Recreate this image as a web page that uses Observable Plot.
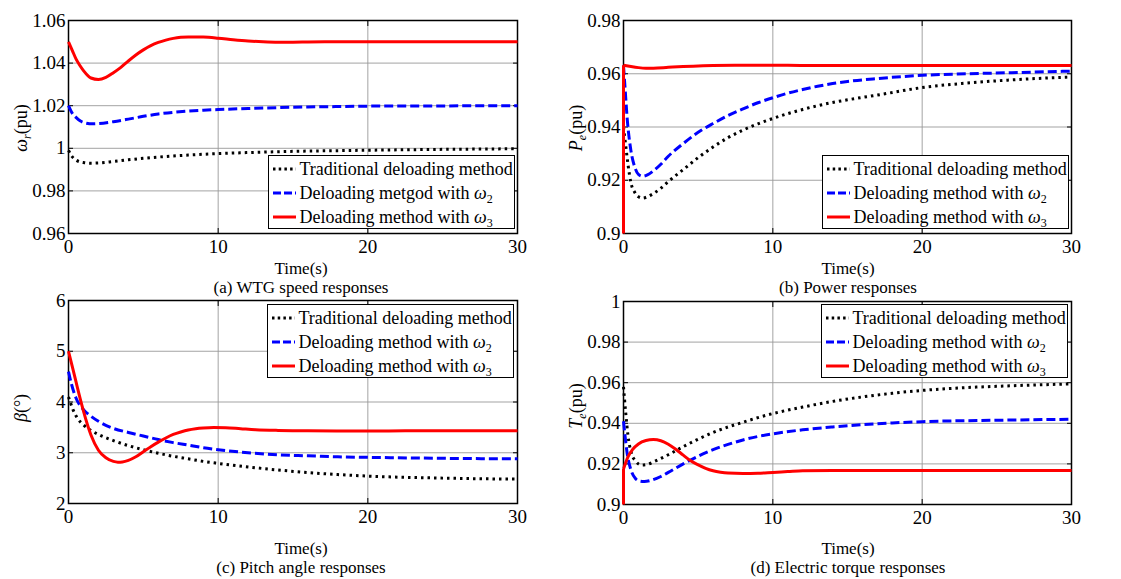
<!DOCTYPE html>
<html><head><meta charset="utf-8">
<script src="https://cdn.jsdelivr.net/npm/d3@7"></script>
<script src="https://cdn.jsdelivr.net/npm/@observablehq/plot@0.6"></script>
<style>
body{margin:0;background:#fff;}
#root{position:relative;width:1121px;height:579px;overflow:hidden;background:#fff;font-family:"Liberation Serif","Times New Roman",serif;color:#000;}
#root *{font-family:"Liberation Serif","Times New Roman",serif !important;}
#root svg text{font-family:"Liberation Serif","Times New Roman",serif !important;font-size:19px !important;fill:#000;}
.panel{position:absolute;}
.lbl{position:absolute;white-space:nowrap;transform:translate(-50%,-50%);font-size:17px;line-height:1;font-weight:normal;}
.ylbl{position:absolute;white-space:nowrap;transform:translate(-50%,-50%) rotate(-90deg);font-size:18px;line-height:1;}
.legend{position:absolute;border:1.5px solid #000;background:#fff;box-sizing:border-box;}
.row{position:absolute;height:24px;display:flex;align-items:center;font-size:18px;white-space:nowrap;line-height:1;}
.row svg{margin-right:4px;}
sub{font-size:12px;vertical-align:-4px;line-height:0;}
</style></head>
<body><div id="root"></div>
<script>
// ---------- data ----------
const timeTicks = [0, 10, 20, 30];
const speedTicks = [0.96, 0.98, 1, 1.02, 1.04, 1.06];
const powerTicks = [0.9, 0.92, 0.94, 0.96, 0.98];
const pitchTicks = [2, 3, 4, 5, 6];
const torqueTicks = [0.9, 0.92, 0.94, 0.96, 0.98, 1];

const legendTextA = ["Traditional deloading method", "Deloading metgod with <i>ω</i><sub>2</sub>", "Deloading method with <i>ω</i><sub>3</sub>"];
const legendTextB = ["Traditional deloading method", "Deloading method with <i>ω</i><sub>2</sub>", "Deloading method with <i>ω</i><sub>3</sub>"];
const captions = ["(a) WTG speed responses", "(b) Power responses", "(c) Pitch angle responses", "(d) Electric torque responses"];
const yLabels = ["<i>ω<sub>r</sub></i>(pu)", "<i>P<sub>e</sub></i>(pu)", "<i>β</i>(°)", "<i>T<sub>e</sub></i>(pu)"];
const xLabel = "Time(s)";

// (a) WTG speed
const speedTraditional = [[0,0.999],[0.2,0.9965],[0.5,0.9945],[1,0.9933],[1.5,0.993],[2,0.9931],[3,0.9938],[4,0.9946],[5,0.9953],[6,0.9959],[7,0.9964],[8,0.9968],[9,0.9972],[10,0.9975],[12,0.998],[14,0.9984],[16,0.9987],[18,0.9989],[20,0.9991],[25,0.9995],[30,0.9998]];
const speedOmega2 = [[0,1.020],[0.2,1.017],[0.5,1.0145],[0.8,1.0128],[1.2,1.0118],[1.6,1.0115],[2,1.0116],[3,1.0125],[4,1.0137],[5,1.015],[6,1.0161],[7,1.0169],[8,1.0175],[9,1.0179],[10,1.0182],[12,1.0187],[14,1.0191],[16,1.0194],[18,1.0196],[20,1.0198],[25,1.0199],[30,1.02]];
const speedOmega3 = [[0,1.05],[0.25,1.046],[0.5,1.042],[0.75,1.039],[1,1.0365],[1.5,1.033],[2,1.0323],[2.5,1.0333],[3,1.0355],[3.5,1.038],[4,1.041],[4.5,1.0438],[5,1.0462],[5.5,1.0482],[6,1.0497],[6.5,1.0508],[7,1.0516],[7.5,1.0521],[8,1.0523],[9,1.0522],[10,1.0517],[11,1.051],[12,1.0504],[13,1.05],[14,1.0498],[15,1.0498],[16,1.0499],[18,1.05],[20,1.05],[25,1.05],[30,1.05]];

// (b) Power
const powerTraditional = [[0,0.940],[0.15,0.933],[0.3,0.926],[0.5,0.919],[0.75,0.9155],[1,0.9138],[1.3,0.9133],[1.6,0.9138],[2,0.915],[2.5,0.917],[3,0.9195],[4,0.924],[5,0.9285],[6,0.9325],[7,0.936],[8,0.9388],[9,0.9412],[10,0.9432],[11,0.945],[12,0.9466],[13,0.948],[14,0.9492],[15,0.9502],[17,0.952],[20,0.9548],[23,0.9565],[26,0.9577],[30,0.9588]];
const powerOmega2 = [[0,0.963],[0.1,0.955],[0.25,0.943],[0.5,0.931],[0.75,0.925],[1,0.9222],[1.3,0.9215],[1.6,0.922],[2,0.9235],[2.5,0.926],[3,0.929],[4,0.9338],[5,0.938],[6,0.9413],[7,0.9443],[8,0.9468],[9,0.9491],[10,0.951],[11,0.9527],[12,0.9541],[13,0.9553],[14,0.9563],[15,0.9571],[17,0.9582],[20,0.9594],[23,0.96],[26,0.9604],[30,0.961]];
const powerOmega3 = [[0,0.9],[0,0.9632],[0.5,0.9627],[1,0.9623],[1.5,0.9621],[2,0.9621],[3,0.9624],[4,0.9627],[5,0.9629],[6,0.9631],[8,0.9632],[10,0.9632],[12,0.9631],[15,0.9631],[20,0.9631],[30,0.9631]];

// (c) Pitch angle
const pitchTraditional = [[0,4.1],[0.3,3.85],[0.6,3.68],[1,3.55],[1.5,3.44],[2,3.36],[3,3.24],[4,3.14],[5,3.06],[6,2.99],[7,2.93],[8,2.88],[9,2.83],[10,2.79],[12,2.72],[14,2.66],[16,2.61],[18,2.57],[20,2.54],[25,2.5],[30,2.48]];
const pitchOmega2 = [[0,4.6],[0.2,4.35],[0.5,4.08],[1,3.85],[1.5,3.72],[2,3.62],[3,3.48],[4,3.4],[5,3.33],[6,3.26],[7,3.2],[8,3.15],[9,3.1],[10,3.06],[12,3.0],[14,2.96],[16,2.94],[18,2.92],[20,2.91],[25,2.89],[30,2.88]];
const pitchOmega3 = [[0,5.0],[0.25,4.7],[0.5,4.4],[0.75,4.1],[1,3.82],[1.5,3.35],[2,3.05],[2.5,2.9],[3,2.83],[3.3,2.815],[3.6,2.82],[4,2.85],[4.5,2.92],[5,3.02],[5.5,3.12],[6,3.21],[6.5,3.29],[7,3.36],[7.5,3.41],[8,3.45],[8.5,3.475],[9,3.49],[9.7,3.5],[10.5,3.495],[11.5,3.475],[12.5,3.455],[14,3.44],[16,3.432],[20,3.43],[25,3.435],[30,3.435]];

// (d) Electric torque
const torqueTraditional = [[0,0.958],[0.15,0.945],[0.3,0.934],[0.5,0.926],[0.8,0.9215],[1.2,0.9195],[1.6,0.9198],[2,0.921],[3,0.9245],[4,0.9285],[5,0.9322],[6,0.9355],[7,0.9382],[8,0.9405],[9,0.9428],[10,0.9448],[12,0.948],[14,0.9508],[16,0.953],[18,0.9548],[20,0.9562],[23,0.9576],[26,0.9585],[30,0.9594]];
const torqueOmega2 = [[0,0.941],[0.1,0.934],[0.25,0.925],[0.5,0.917],[0.8,0.9128],[1.1,0.9115],[1.4,0.9113],[1.8,0.9118],[2.5,0.9138],[3,0.9158],[4,0.92],[5,0.9238],[6,0.927],[7,0.9296],[8,0.9318],[9,0.9335],[10,0.9348],[12,0.9368],[14,0.9382],[16,0.9393],[18,0.9402],[20,0.9408],[25,0.9415],[30,0.942]];
const torqueOmega3 = [[0,0.9],[0,0.9175],[0.3,0.9235],[0.6,0.927],[1,0.9298],[1.5,0.9315],[2,0.932],[2.5,0.9314],[3,0.9297],[3.5,0.9272],[4,0.9243],[4.5,0.9215],[5,0.9195],[5.5,0.9178],[6,0.9166],[6.5,0.9159],[7,0.9155],[8,0.9153],[9,0.9154],[10,0.9158],[11,0.9162],[12,0.9166],[14,0.9168],[20,0.9168],[30,0.9168]];

// ---------- styles ----------
const seriesStyles = [
  {stroke: "#000000", strokeWidth: 3, strokeDasharray: "2.5,4", legendDash: "2.5,3.2"},
  {stroke: "#0000ff", strokeWidth: 3, strokeDasharray: "9,4", legendDash: "8,3"},
  {stroke: "#ff0000", strokeWidth: 3, strokeDasharray: null, legendDash: null}
];
const FONT = '"Liberation Serif","Times New Roman",serif';

const root = document.getElementById("root");
const fmt = d => String(+(+d).toFixed(2));

function makePanel(cfg) {
  const {series, yTicks, left, top, width, height, mt, mb, ml, mr} = cfg;
  const gridStyle = {stroke: "#999999", strokeOpacity: 1, strokeWidth: 0.9};
  const marks = [
    Plot.gridX(timeTicks.slice(1, -1), gridStyle),
    Plot.gridY(yTicks.slice(1, -1), gridStyle),
    Plot.axisX(timeTicks, {anchor: "bottom", tickSize: 0, tickPadding: 6, label: null, tickFormat: fmt, fontFamily: FONT, fontSize: 19}),
    Plot.axisX(timeTicks, {anchor: "bottom", tickSize: -5, label: null, tickFormat: () => "", strokeWidth: 1}),
    Plot.axisX(timeTicks, {anchor: "top", tickSize: -5, label: null, tickFormat: () => "", strokeWidth: 1}),
    Plot.axisY(yTicks, {anchor: "left", tickSize: 0, tickPadding: 3, label: null, tickFormat: fmt, fontFamily: FONT, fontSize: 19}),
    Plot.axisY(yTicks, {anchor: "left", tickSize: -5, label: null, tickFormat: () => "", strokeWidth: 1}),
    Plot.axisY(yTicks, {anchor: "right", tickSize: -5, label: null, tickFormat: () => "", strokeWidth: 1}),
    Plot.frame({stroke: "#000", strokeWidth: 1.5})
  ];
  series.forEach((s, i) => {
    const st = seriesStyles[i];
    const common = {x: d => d[0], y: d => d[1], stroke: st.stroke, strokeWidth: st.strokeWidth,
      strokeDasharray: st.strokeDasharray, strokeLinecap: "butt", strokeLinejoin: "round"};
    // a step at t = 0 (two samples at the same time) is drawn straight, the rest smoothly
    if (s.length > 2 && s[0][0] === s[1][0]) {
      marks.push(Plot.line(s.slice(0, 2), {...common, curve: "linear"}));
      marks.push(Plot.line(s.slice(1), {...common, curve: "monotone-x"}));
    } else {
      marks.push(Plot.line(s, {...common, curve: "monotone-x"}));
    }
  });
  const chart = Plot.plot({
    width, height, marginTop: mt, marginBottom: mb, marginLeft: ml, marginRight: mr,
    style: {fontFamily: FONT, fontSize: "19px", color: "#000", background: "transparent", overflow: "visible"},
    x: {domain: [0, 30]},
    y: {domain: [yTicks[0], yTicks[yTicks.length - 1]]},
    marks
  });
  const wrap = document.createElement("div");
  wrap.className = "panel";
  wrap.style.left = left + "px";
  wrap.style.top = top + "px";
  wrap.appendChild(chart);
  root.appendChild(wrap);
}

function addText(cls, html, x, y) {
  const d = document.createElement("div");
  d.className = cls;
  d.innerHTML = html;
  d.style.left = x + "px";
  d.style.top = y + "px";
  root.appendChild(d);
}

function addLegend(x, y, w, h, texts) {
  const box = document.createElement("div");
  box.className = "legend";
  Object.assign(box.style, {left: x + "px", top: y + "px", width: w + "px", height: h + "px"});
  texts.forEach((t, i) => {
    const st = seriesStyles[i];
    const row = document.createElement("div");
    row.className = "row";
    row.style.left = "3.5px";
    row.style.top = (1 + i * 24) + "px";
    row.innerHTML = `<svg width="23" height="8"><line x1="0" y1="4" x2="23" y2="4" stroke="${st.stroke}" stroke-width="${st.strokeWidth}" ${st.legendDash ? `stroke-dasharray="${st.legendDash}"` : ""}/></svg><span>${t}</span>`;
    box.appendChild(row);
  });
  root.appendChild(box);
}

makePanel({series: [speedTraditional, speedOmega2, speedOmega3], yTicks: speedTicks, left: 0, top: 0, width: 560, height: 290, mt: 20, mb: 57, ml: 68, mr: 43});
makePanel({series: [powerTraditional, powerOmega2, powerOmega3], yTicks: powerTicks, left: 555, top: 0, width: 566, height: 290, mt: 20, mb: 57, ml: 68, mr: 50});
makePanel({series: [pitchTraditional, pitchOmega2, pitchOmega3], yTicks: pitchTicks, left: 0, top: 290, width: 560, height: 289, mt: 10, mb: 76, ml: 68, mr: 43});
makePanel({series: [torqueTraditional, torqueOmega2, torqueOmega3], yTicks: torqueTicks, left: 555, top: 290, width: 566, height: 289, mt: 11, mb: 75, ml: 68, mr: 50});

addLegend(268, 155, 247, 74, legendTextA);
addLegend(822, 155, 247, 74, legendTextB);
addLegend(267, 304, 247, 74, legendTextB);
addLegend(821, 304, 247, 74, legendTextB);

addText("lbl", xLabel, 301, 268);
addText("lbl", xLabel, 848, 268);
addText("lbl", xLabel, 301, 548);
addText("lbl", xLabel, 848, 548);

addText("lbl", captions[0], 301, 287);
addText("lbl", captions[1], 848, 287);
addText("lbl", captions[2], 301, 567);
addText("lbl", captions[3], 848, 567);

addText("ylbl", yLabels[0], 21, 128);
addText("ylbl", yLabels[1], 576, 128);
addText("ylbl", yLabels[2], 21, 408);
addText("ylbl", yLabels[3], 576, 406);
</script>
</body></html>
